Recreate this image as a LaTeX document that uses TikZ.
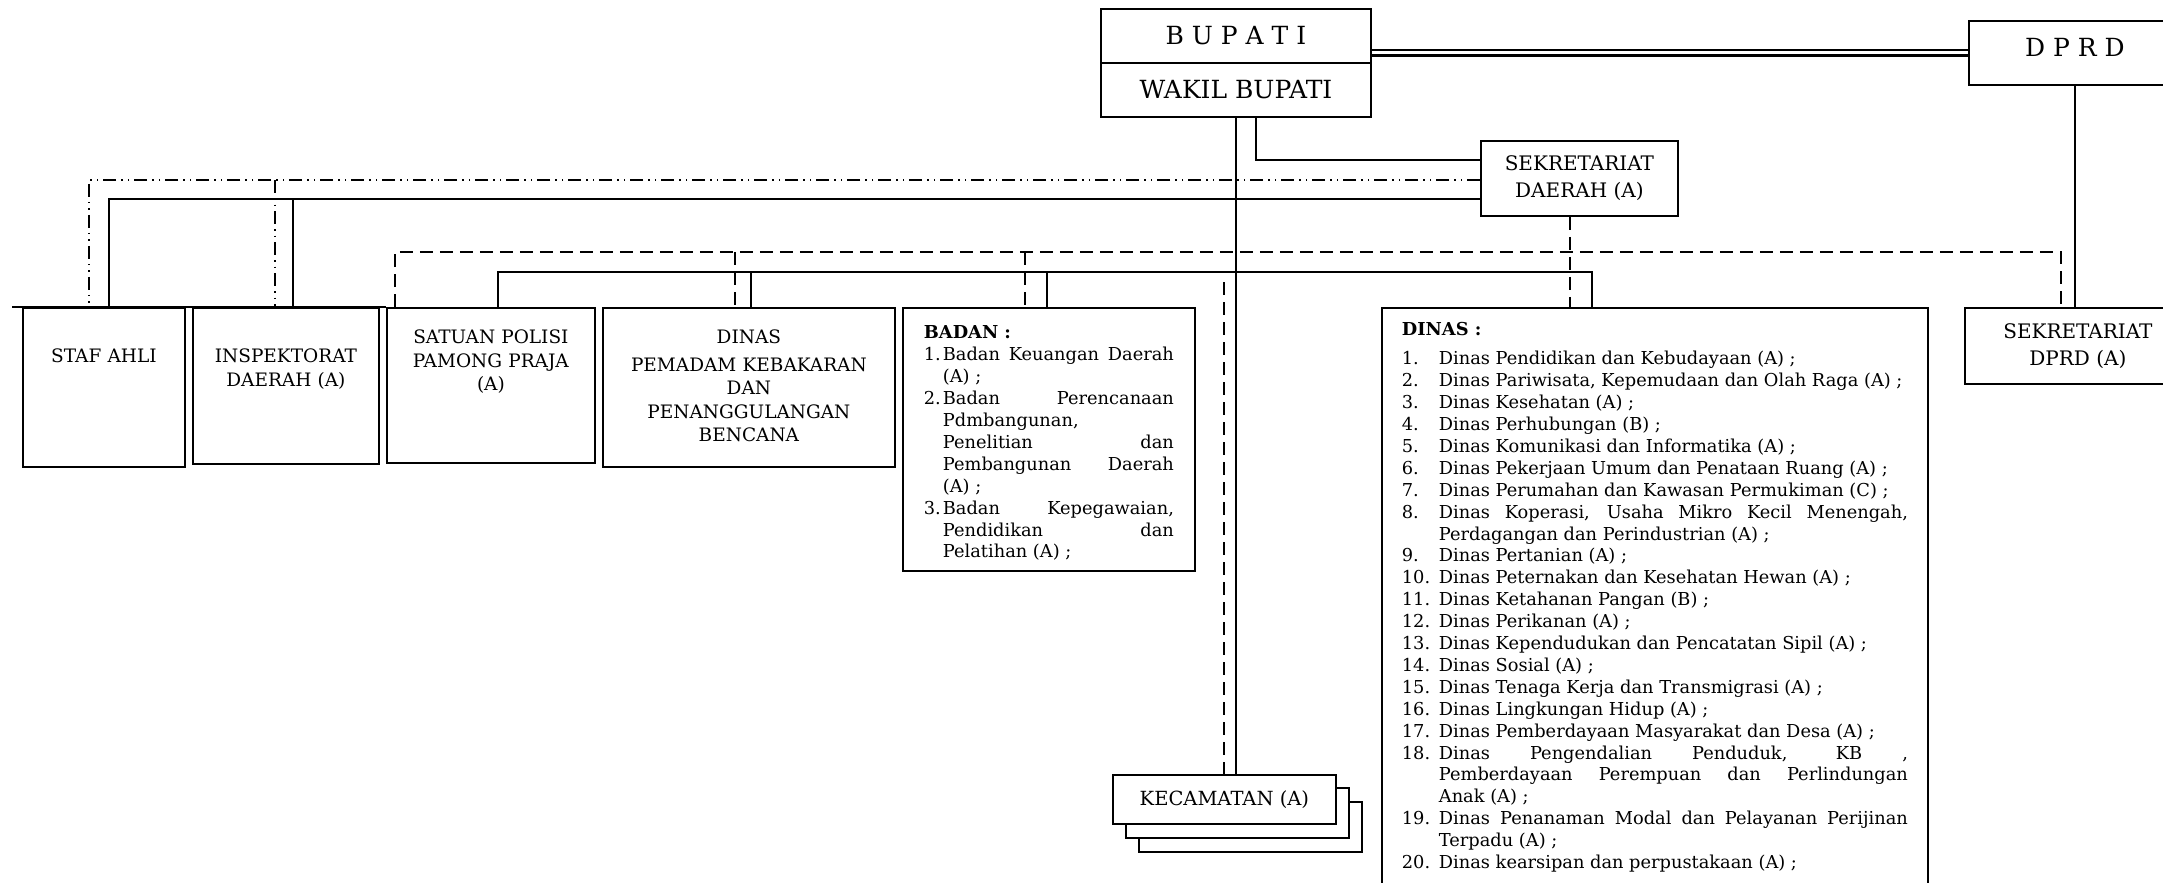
\documentclass[tikz,border=0pt]{standalone}
\usepackage{fontspec}
\setmainfont{DejaVu Serif}
\usetikzlibrary{positioning, shapes.multipart, calc}
\tolerance=10000
\newcommand{\orgitem}[2][37pt]{\par\hangindent=#1\hangafter=1\noindent\makebox[#1][l]{#2}\ignorespaces}

\begin{document}
\begin{tikzpicture}[
  x=1pt, y=-1pt,
  box/.style={draw, line width=1.8pt, fill=white},
  unit/.style={box, anchor=north west, inner xsep=4pt, inner ysep=0pt, align=center, font=\fontsize{18.5}{23.5}\selectfont},
  listbox/.style={box, anchor=north west, inner ysep=0pt, align=justify, font=\fontsize{17.8}{21.9}\selectfont},
  head/.style={box, anchor=north west, font=\fontsize{25}{30}\selectfont},
  secr/.style={box, anchor=north west, align=center, font=\fontsize{20}{27}\selectfont},
  link/.style={line width=1.5pt},
  dashlink/.style={line width=2pt, dash pattern=on 13pt off 7pt},
  dotlink/.style={line width=1.5pt, dash pattern=on 13pt off 5pt on 1.5pt off 5pt on 1.5pt off 5pt}
]
\useasboundingbox (0,0) rectangle (2163,883);

% PIMPINAN
\node[head, rectangle split, rectangle split parts=2, minimum width=270pt, inner ysep=17pt, text height=18pt, text depth=0pt] (bupati) at (1100,8)
{B U P A T I\nodepart{two}WAKIL BUPATI};
\node[head, minimum width=212pt, minimum height=64pt, text height=18pt, text depth=10pt] (dprd) at (1968,20) {D P R D};

% SEKRETARIAT
\node[secr, minimum width=197pt, minimum height=75pt] (sekda) at (1480,140) {SEKRETARIAT\\DAERAH (A)};
\node[secr, minimum width=226pt, minimum height=76pt] (sekdprd) at (1964,307) {SEKRETARIAT\\DPRD (A)};

% PERANGKAT DAERAH
\node[unit, text width=154pt, text height=54.75pt, text depth=104.25pt] (staf) at (22,307) {STAF AHLI};
\node[unit, text width=178pt, text height=54.75pt, text depth=101.25pt] (insp) at (192,307) {INSPEKTORAT\\DAERAH (A)};
\node[unit, text width=200pt, text height=35.75pt, text depth=119.25pt] (satpol) at (386,307) {SATUAN POLISI\\PAMONG PRAJA\\(A)};
\node[unit, text width=284pt, text height=35.75pt, text depth=123.25pt] (damkar) at (602,307)
{DINAS\\[4pt]PEMADAM KEBAKARAN\\DAN\\PENANGGULANGAN\\BENCANA};

\node[listbox, inner xsep=21pt, text width=250pt, text height=31pt, text depth=232pt] (badan) at (902,307)
{\textbf{BADAN :}
\orgitem[19pt]{1.}Badan Keuangan Daerah\linebreak (A) ;
\orgitem[19pt]{2.}Badan Perencanaan\linebreak Pdmbangunan,\newline Penelitian dan\linebreak Pembangunan Daerah\linebreak (A) ;
\orgitem[19pt]{3.}Badan Kepegawaian,\linebreak Pendidikan dan\linebreak Pelatihan (A) ;\par};

\node[listbox, inner xsep=20pt, text width=506pt, text height=28pt, text depth=565pt] (dinas) at (1381,307)
{\textbf{DINAS :}\par\vspace{7pt}
\orgitem{1.}Dinas Pendidikan dan Kebudayaan (A) ;
\orgitem{2.}Dinas Pariwisata, Kepemudaan dan Olah Raga (A) ;
\orgitem{3.}Dinas Kesehatan (A) ;
\orgitem{4.}Dinas Perhubungan (B) ;
\orgitem{5.}Dinas Komunikasi dan Informatika (A) ;
\orgitem{6.}Dinas Pekerjaan Umum dan Penataan Ruang (A) ;
\orgitem{7.}Dinas Perumahan dan Kawasan Permukiman (C) ;
\orgitem{8.}Dinas Koperasi, Usaha Mikro Kecil Menengah,\linebreak Perdagangan dan Perindustrian (A) ;
\orgitem{9.}Dinas Pertanian (A) ;
\orgitem{10.}Dinas Peternakan dan Kesehatan Hewan (A) ;
\orgitem{11.}Dinas Ketahanan Pangan (B) ;
\orgitem{12.}Dinas Perikanan (A) ;
\orgitem{13.}Dinas Kependudukan dan Pencatatan Sipil (A) ;
\orgitem{14.}Dinas Sosial (A) ;
\orgitem{15.}Dinas Tenaga Kerja dan Transmigrasi (A) ;
\orgitem{16.}Dinas Lingkungan Hidup (A) ;
\orgitem{17.}Dinas Pemberdayaan Masyarakat dan Desa (A) ;
\orgitem{18.}Dinas Pengendalian Penduduk, KB ,\linebreak Pemberdayaan Perempuan dan Perlindungan\linebreak Anak (A) ;
\orgitem{19.}Dinas Penanaman Modal dan Pelayanan Perijinan\linebreak Terpadu (A) ;
\orgitem{20.}Dinas kearsipan dan perpustakaan (A) ;\par};

% KECAMATAN
\node[box, anchor=north west, minimum width=223pt, minimum height=50pt] (kec3) at (1138,801) {};
\node[box, anchor=north west, minimum width=223pt, minimum height=50pt] (kec2) at ([xshift=-13pt,yshift=14pt]kec3.north west) {};
\node[box, anchor=north west, minimum width=223pt, minimum height=49pt, font=\fontsize{19.5}{24}\selectfont] (kec) at ([xshift=-13pt,yshift=13pt]kec2.north west) {KECAMATAN (A)};

% GARIS KOORDINASI
\coordinate (sekbus) at (0,160);
\coordinate (dotbus) at (0,180);
\coordinate (linebus) at (0,199);
\coordinate (dashbus) at (0,252);
\coordinate (opdbus) at (0,272);
\coordinate (kecbus) at (0,282);

\coordinate (stafA) at ([xshift=-15pt]staf.north);
\coordinate (stafB) at ([xshift=5pt]staf.north);
\coordinate (inspA) at ([xshift=-11pt]insp.north);
\coordinate (inspB) at ([xshift=7pt]insp.north);
\coordinate (satpolA) at ([xshift=-96pt]satpol.north);
\coordinate (satpolB) at ([xshift=7pt]satpol.north);
\coordinate (damkarA) at ([xshift=-14pt]damkar.north);
\coordinate (damkarB) at ([xshift=2pt]damkar.north);
\coordinate (badanA) at ([xshift=-24pt]badan.north);
\coordinate (badanB) at ([xshift=-2pt]badan.north);
\coordinate (dinasB) at ([xshift=-63pt]dinas.north);
\coordinate (sekdaA) at ([xshift=-9.5pt]sekda.south);
\coordinate (sekdprdA) at ([xshift=-17pt]sekdprd.north);
\coordinate (bupatiB) at ([xshift=20pt]bupati.south);
\coordinate (dblA) at ([yshift=-42pt]bupati.north east);
\coordinate (dblB) at ([yshift=-48pt]bupati.north east);
\coordinate (topleft) at ([xshift=-10pt]staf.north west);

\draw[link] (dblA) -- (dblA -| dprd.west);
\draw[line width=3pt] (dblB) -- (dblB -| dprd.west);
\draw[link] (dprd.south) -- (dprd.south |- sekdprd.north);

\draw[link] (bupati.south) -- (bupati.south |- kec.north);
\draw[link] (bupatiB) |- (sekda.west |- sekbus);

\draw[dotlink] (sekda.west |- dotbus) -| (stafA);
\draw[dotlink] (inspA |- dotbus) -- (inspA);
\draw[link] (sekda.west |- linebus) -| (stafB);
\draw[link] (inspB |- linebus) -- (inspB);

\draw[dashlink] (satpolA) |- (sekdprdA |- dashbus) -- (sekdprdA);
\draw[dashlink] (damkarA |- dashbus) -- (damkarA);
\draw[dashlink] (badanA |- dashbus) -- (badanA);
\draw[link] (satpolB) |- (dinasB |- opdbus) -- (dinasB);
\draw[link] (damkarB |- opdbus) -- (damkarB);
\draw[link] (badanB |- opdbus) -- (badanB);

\draw[dashlink] (sekdaA) -- (sekdaA |- dinas.north);
\draw[dashlink] (kec.north |- kecbus) -- (kec.north);

\draw[line width=1.8pt] (topleft) -- (satpol.north west);

\end{tikzpicture}
\end{document}
